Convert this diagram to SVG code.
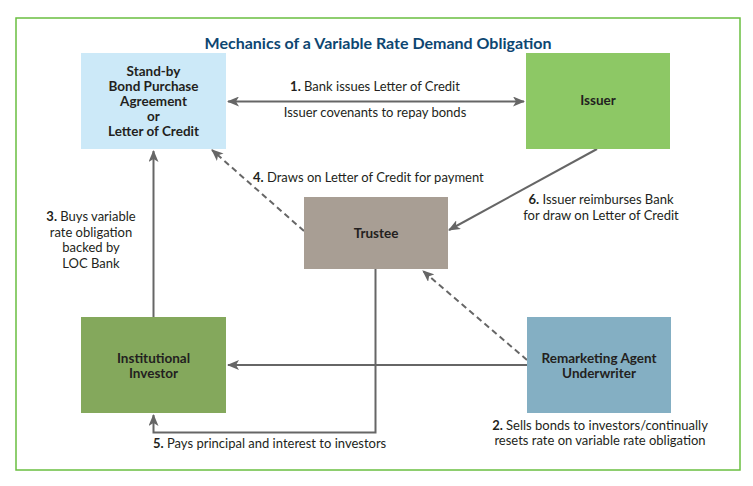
<svg xmlns="http://www.w3.org/2000/svg" width="753" height="486" viewBox="0 0 753 486">
<defs>
<marker id="ah" viewBox="0 0 12 10" refX="11" refY="5" markerWidth="12" markerHeight="10" markerUnits="userSpaceOnUse" orient="auto-start-reverse">
<path d="M0,0 L12,5 L0,10 L3,5 z" fill="#666"/>
</marker>
</defs>
<style>
.lbl{font-family:Lato,"Noto Sans",sans-serif;font-size:13px;fill:#231f20}
.nd{font-family:Lato,"Noto Sans",sans-serif;font-size:13.5px;font-weight:bold;fill:#231f20}
.b{font-weight:bold}
.ln{fill:none;stroke:#666;stroke-width:2}
.dash{stroke-dasharray:6 4}
</style>
<rect x="0" y="0" width="753" height="486" fill="#fff"/>
<rect x="16" y="18" width="724" height="452" fill="none" stroke="#6abf40" stroke-width="1.5"/>
<text x="378" y="49" text-anchor="middle" font-family="Lato,'Noto Sans',sans-serif" font-size="16" font-weight="bold" fill="#0d4671">Mechanics of a Variable Rate Demand Obligation</text>

<g id="connectors">
<line class="ln" x1="228" y1="101.5" x2="524" y2="101.5" marker-start="url(#ah)" marker-end="url(#ah)"/>
<line class="ln" x1="153.5" y1="317" x2="153.5" y2="151" marker-end="url(#ah)"/>
<line class="ln dash" x1="304" y1="231" x2="212" y2="150" marker-end="url(#ah)"/>
<line class="ln" x1="597" y1="149" x2="449" y2="230" marker-end="url(#ah)"/>
<polyline class="ln" points="375.5,269 375.5,432.5 153.5,432.5 153.5,415" marker-end="url(#ah)"/>
<line class="ln" x1="527" y1="365" x2="228" y2="365" marker-end="url(#ah)"/>
<line class="ln dash" x1="527" y1="360" x2="423" y2="271" marker-end="url(#ah)"/>
</g>

<g id="standby">
<rect x="81" y="53" width="145" height="96" fill="#cce9f8"/>
<text class="nd" text-anchor="middle"><tspan x="153.5" y="76">Stand-by</tspan><tspan x="153.5" y="91">Bond Purchase</tspan><tspan x="153.5" y="106">Agreement</tspan><tspan x="153.5" y="120.5">or</tspan><tspan x="153.5" y="135.5">Letter of Credit</tspan></text>
</g>
<g id="issuer">
<rect x="526" y="53" width="144" height="96" fill="#8dc865"/>
<text class="nd" x="598" y="105" text-anchor="middle">Issuer</text>
</g>
<g id="trustee">
<rect x="304" y="197" width="144" height="72" fill="#a89e94"/>
<text class="nd" x="376" y="238" text-anchor="middle">Trustee</text>
</g>
<g id="investor">
<rect x="81" y="317" width="145" height="96" fill="#84a85c"/>
<text class="nd" text-anchor="middle"><tspan x="153.5" y="363">Institutional</tspan><tspan x="153.5" y="378">Investor</tspan></text>
</g>
<g id="remarketing">
<rect x="527" y="317" width="144" height="96" fill="#84afc3"/>
<text class="nd" text-anchor="middle"><tspan x="599" y="363">Remarketing Agent</tspan><tspan x="599" y="378">Underwriter</tspan></text>
</g>

<g id="labels">
<text class="lbl" x="375" y="91" text-anchor="middle"><tspan class="b">1.</tspan> Bank issues Letter of Credit</text>
<text class="lbl" x="375" y="117" text-anchor="middle">Issuer covenants to repay bonds</text>
<text class="lbl" text-anchor="middle"><tspan x="91" y="221"><tspan class="b">3.</tspan> Buys variable</tspan><tspan x="91" y="236.5">rate obligation</tspan><tspan x="91" y="252">backed by</tspan><tspan x="91" y="267.5">LOC Bank</tspan></text>
<text class="lbl" x="253" y="182"><tspan class="b">4.</tspan> Draws on Letter of Credit for payment</text>
<text class="lbl" text-anchor="middle"><tspan x="601" y="204"><tspan class="b">6.</tspan> Issuer reimburses Bank</tspan><tspan x="601" y="220">for draw on Letter of Credit</tspan></text>
<text class="lbl" x="153" y="448"><tspan class="b">5.</tspan> Pays principal and interest to investors</text>
<text class="lbl" text-anchor="middle"><tspan x="600" y="429.5"><tspan class="b">2.</tspan> Sells bonds to investors/continually</tspan><tspan x="600" y="445">resets rate on variable rate obligation</tspan></text>
</g>
</svg>
